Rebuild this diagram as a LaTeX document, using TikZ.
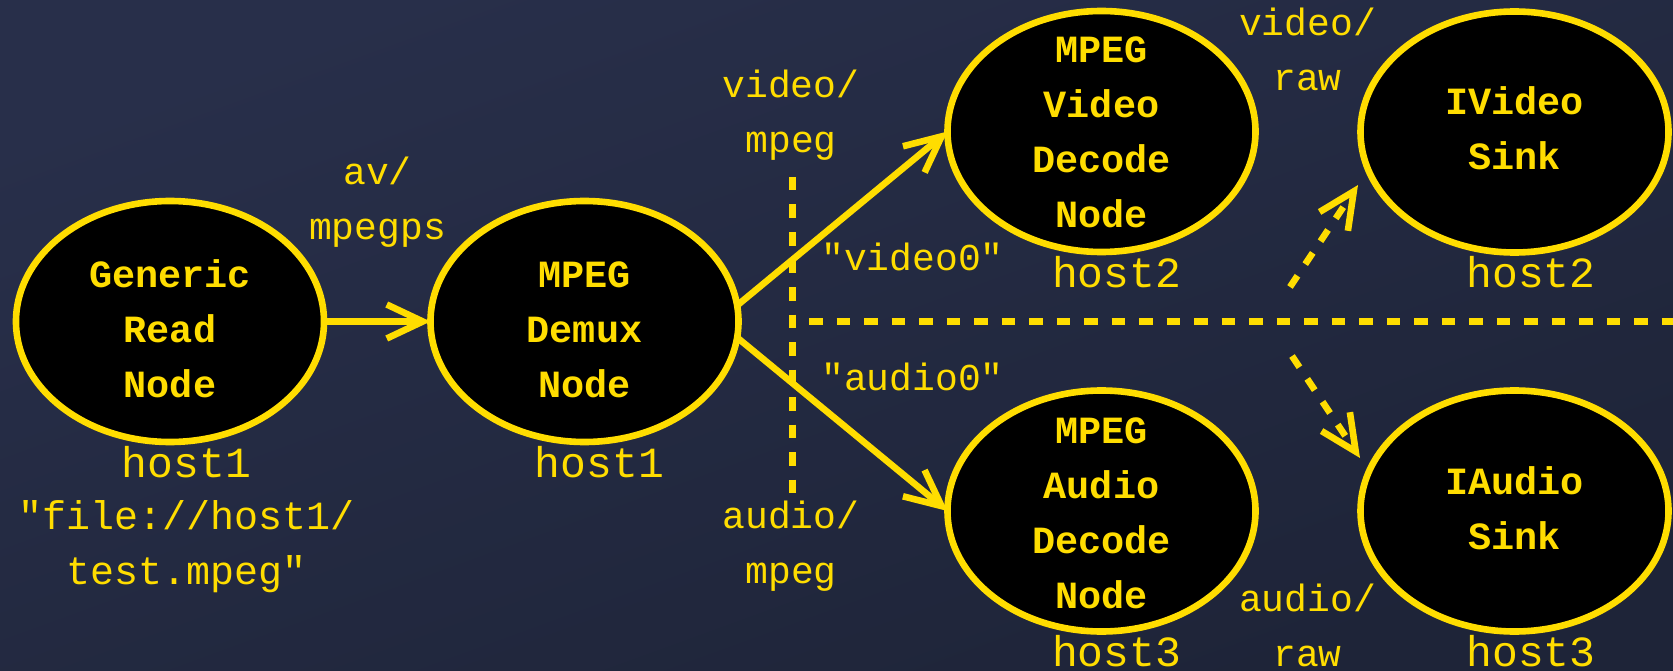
\documentclass[tikz,border=0pt]{standalone}
\usepackage{fontspec}
\setmonofont{Liberation Mono}
\usetikzlibrary{arrows.meta,shapes.geometric}
\definecolor{gold}{RGB}{255,221,0}
\definecolor{bgA}{RGB}{40,47,74}
\definecolor{bgB}{RGB}{30,36,56}
\newcommand\mlines[1]{\begin{tabular}[t]{@{}c@{}}#1\end{tabular}}
\tikzset{
  proc/.style={ellipse, draw=gold, fill=black, line width=6.6pt,
    minimum width=308pt, minimum height=241pt, inner sep=0pt, outer sep=0pt},
  ntext/.style={text=gold, font=\fontsize{38.5}{55}\selectfont\ttfamily\bfseries,
    anchor=base, inner sep=0pt},
  elabel/.style={text=gold, font=\fontsize{38}{55}\selectfont\ttfamily,
    anchor=base, inner sep=0pt},
  flabel/.style={elabel, font=\fontsize{40}{55}\selectfont\ttfamily},
  hlabel/.style={text=gold, font=\fontsize{43}{55}\selectfont\ttfamily,
    anchor=base, inner sep=0pt},
  flow/.style={draw=gold, line width=6.6pt, -{Straight Barb[length=36pt,width=34pt]}},
  dflow/.style={flow, dash pattern=on 13.5pt off 14pt},
  divider/.style={draw=gold, line width=7pt, dash pattern=on 13.5pt off 14pt},
}
\begin{document}
\begin{tikzpicture}[x=1pt,y=-1pt]
\useasboundingbox (0,0) rectangle (1673,671);
\shade[top color=bgA, bottom color=bgB, shading angle=20] (0,0) rectangle (1673,671);

% process nodes
\node[proc] (gen)   at (170,321.5)   {};
\node[proc] (demux) at (584.5,321.5) {};
\node[proc] (vdec)  at (1101.5,131.5) {};
\node[proc] (vsink) at (1514.5,132)  {};
\node[proc] (adec)  at (1101.5,511)  {};
\node[proc] (asink) at (1514.5,511)  {};

% node texts
\node[ntext] (gen-t)   at (170,287)    {\mlines{Generic\\Read\\Node}};
\node[ntext] (demux-t) at (584.5,287)  {\mlines{MPEG\\Demux\\Node}};
\node[ntext] (vdec-t)  at (1101.5,63)  {\mlines{MPEG\\Video\\Decode\\Node}};
\node[ntext] (vsink-t) at (1514.5,115) {\mlines{IVideo\\Sink}};
\node[ntext] (adec-t)  at (1101.5,443) {\mlines{MPEG\\Audio\\Decode\\Node}};
\node[ntext] (asink-t) at (1514.5,494) {\mlines{IAudio\\Sink}};

% host labels
\node[hlabel] (h-gen)   at (186.5,477.7) {host1};
\node[hlabel] (h-demux) at (599.5,477.7) {host1};
\node[hlabel] (h-vdec)  at (1116.5,287)  {host2};
\node[hlabel] (h-vsink) at (1531,287)    {host2};
\node[hlabel] (h-adec)  at (1116.5,666)  {host3};
\node[hlabel] (h-asink) at (1531,666)    {host3};

% other labels
\node[flabel] (file) at (187,529) {\mlines{"file://host1/\\test.mpeg"}};
\node[elabel] (l-av)   at (377.5,185) {\mlines{av/\\mpegps}};
\node[elabel] (l-vm)   at (791,98)    {\mlines{video/\\mpeg}};
\node[elabel] (l-am)   at (791,528)   {\mlines{audio/\\mpeg}};
\node[elabel] (l-v0)   at (912.5,270) {"video0"};
\node[elabel] (l-a0)   at (912.5,390) {"audio0"};
\node[elabel] (l-vr)   at (1307.5,36) {\mlines{video/\\raw}};
\node[elabel] (l-ar)   at (1307.5,611) {\mlines{audio/\\raw}};

% dividers
\coordinate (vtop) at (792,177);
\coordinate (vbot) at (792,494);
\coordinate (hleft) at (809,321.7);
\coordinate (hright) at (1673,321.7);
\draw[divider] (vtop) -- (vbot);
\draw[divider] (hleft) -- (hright);

% connectors
\draw[flow] (gen) -- (demux);
\draw[flow] (demux.6) -- (vdec.west);
\draw[flow] (demux.-6) -- (adec.west);
\coordinate (v0) at (1290,287);
\coordinate (v1) at (1358,185);
\coordinate (a0) at (1292,356);
\coordinate (a1) at (1360,458);
\draw[dflow] (v0) -- (v1);
\draw[dflow] (a0) -- (a1);
\end{tikzpicture}
\end{document}
